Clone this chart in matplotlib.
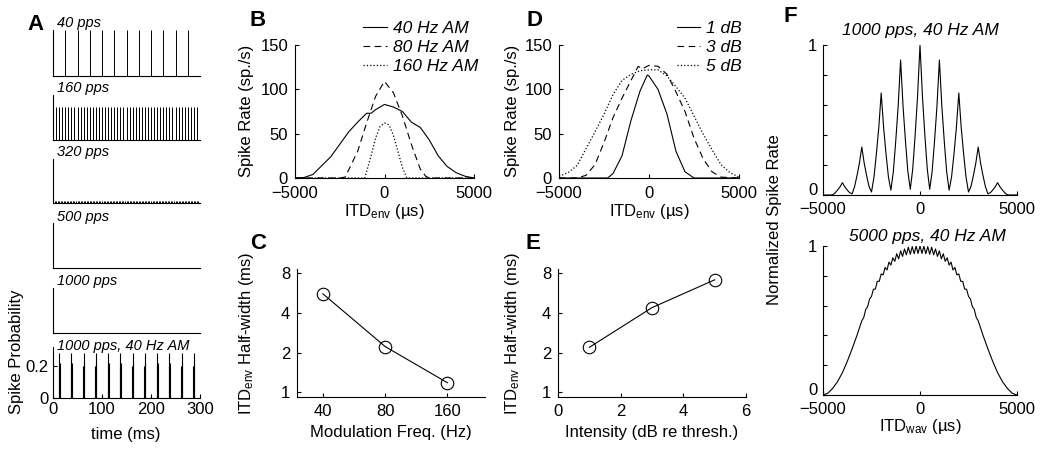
import numpy as np
import matplotlib.pyplot as plt

plt.rcParams['font.family'] = ['Liberation Sans', 'DejaVu Sans']
plt.rcParams['mathtext.fontset'] = 'custom'
plt.rcParams['mathtext.rm'] = 'Liberation Sans'
plt.rcParams['mathtext.it'] = 'Liberation Sans:italic'
plt.rcParams['font.size'] = 12
plt.rcParams['xtick.direction'] = 'in'
plt.rcParams['ytick.direction'] = 'in'
plt.rcParams['xtick.major.size'] = 3
plt.rcParams['ytick.major.size'] = 3
plt.rcParams['axes.linewidth'] = 0.8

# ---- panel A : spike probability vs time ----
a_labels = ['40 pps', '160 pps', '320 pps', '500 pps', '1000 pps', '1000 pps, 40 Hz AM']
pulse_rates = [40, 160, 320, 500, 1000]
onset_height = [1.0, 1.0, 0.45, 0.55, 0.9]
steady_height = [1.0, 0.73, 0.04, 0.0, 0.0]
am_peak_times = [12.5, 37.5, 62.5, 87.5, 112.5, 137.5, 162.5, 187.5, 212.5, 237.5, 262.5, 287.5]
am_cluster_offsets = [-1, 0, 1]
am_cluster_heights = [0.2, 0.28, 0.22]

# ---- panel B : rate vs ITDenv for AM rates ----
b_x40 = [-5000, -4500, -4000, -3500, -3000, -2500, -2000, -1500, -1000, -750, -500, 0,
         500, 1000, 1500, 2000, 2500, 3000, 3500, 4000, 4500, 5000]
b_y40 = [0, 0.5, 4, 14, 24, 38, 52, 63, 73, 73, 77, 83, 80, 75, 63, 57, 43, 25, 13, 6, 2, 0]
b_x80 = [-5000, -2500, -2200, -1500, -1000, -500, 0, 500, 1000, 1500, 2000, 2300, 2500, 5000]
b_y80 = [0, 0, 1, 30, 62, 92, 109, 96, 70, 38, 10, 2, 0, 0]
b_x160 = [-5000, -1100, -750, -500, -250, 0, 250, 500, 750, 1000, 1250, 5000]
b_y160 = [0, 0, 25, 45, 58, 62, 60, 48, 30, 12, 0, 0]
b_labels = ['40 Hz AM', '80 Hz AM', '160 Hz AM']

# ---- panel C : half-width vs modulation freq ----
c_freq = [40, 80, 160]
c_halfwidth = [5.58, 2.22, 1.18]

# ---- panel D : rate vs ITDenv for intensities ----
d_x1 = [-5000, -2300, -2000, -1500, -1000, -500, -100, 0, 500, 1000, 1500, 2000, 2500, 5000]
d_y1 = [0, 0, 5, 25, 65, 98, 116, 115, 100, 72, 30, 7, 0, 0]
d_x3 = [-5000, -4000, -3500, -3000, -2500, -2000, -1500, -1000, -600, -400, 0, 500, 1000,
        1500, 2000, 2500, 3000, 3500, 4000, 5000]
d_y3 = [0, 0, 3, 15, 40, 68, 90, 110, 126, 123, 127, 126, 117, 97, 75, 45, 22, 7, 1, 0]
d_x5 = [-5000, -4500, -4000, -3500, -3000, -2500, -2000, -1500, -1000, -500, 0, 500, 1000,
        1500, 2000, 2500, 3000, 3500, 4000, 4500, 5000]
d_y5 = [2, 6, 14, 33, 52, 72, 94, 110, 117, 121, 122, 122, 115, 103, 90, 70, 50, 32, 15, 6, 1]
d_labels = ['1 dB', '3 dB', '5 dB']

# ---- panel E : half-width vs intensity ----
e_level = [1, 3, 5]
e_halfwidth = [2.19, 4.38, 7.12]

# ---- panel F : normalized rate vs ITDwav ----
# right half (0..5000 us), the curves are symmetric about 0
f1_x = [0, 125, 250, 375, 500, 625, 750, 875, 1000, 1125, 1250, 1375, 1500, 1625, 1750, 1875,
        2000, 2125, 2250, 2375, 2500, 2625, 2750, 2875, 3000, 3125, 3250, 3375, 3500, 3625,
        3750, 3875, 4000, 4125, 4250, 4375, 4500, 4625, 4750, 4875, 5000]
f1_y = [1.0, 0.66, 0.40, 0.173, 0.038, 0.156, 0.36, 0.594, 0.90, 0.594, 0.36, 0.155,
        0.032, 0.118, 0.272, 0.449, 0.68, 0.449, 0.272, 0.117, 0.020, 0.056, 0.128, 0.211,
        0.32, 0.211, 0.128, 0.054, 0.008, 0.015, 0.033, 0.054, 0.082, 0.054, 0.033, 0.014,
        0.002, 0.0, 0.0, 0.0, 0.0]
f2_x = [0, 100, 200, 300, 400, 500, 600, 700, 800, 900, 1000, 1100, 1200, 1300, 1400, 1500,
        1600, 1700, 1800, 1900, 2000, 2100, 2200, 2300, 2400, 2500, 2600, 2700, 2800, 2900,
        3000, 3250, 3500, 3750, 4000, 4250, 4500, 4750, 5000]
f2_y = [1.0, 0.950, 0.999, 0.948, 0.996, 0.945, 0.992, 0.941, 0.980, 0.930, 0.967, 0.914,
        0.948, 0.897, 0.921, 0.872, 0.892, 0.839, 0.856, 0.806, 0.813, 0.763, 0.763, 0.711,
        0.710, 0.662, 0.644, 0.593, 0.573, 0.520, 0.498, 0.40, 0.31, 0.225, 0.15, 0.09,
        0.045, 0.012, 0.0]
f_titles = ['1000 pps, 40 Hz AM', '5000 pps, 40 Hz AM']

W, H = 1050, 450
fig = plt.figure(figsize=(10.5, 4.5), dpi=100)


def box(l, t, r, b):
    return [l / W, 1 - b / H, (r - l) / W, (b - t) / H]


def px(x, y):
    return x / W, 1 - y / H


def ftext(x, y, s, **kw):
    kw.setdefault('ha', 'center')
    kw.setdefault('va', 'center')
    fig.text(*px(x, y), s, **kw)


def clean(ax):
    ax.spines['top'].set_visible(False)
    ax.spines['right'].set_visible(False)


# ---------- A ----------
a_rows = [(30, 76), (95, 140), (159, 203), (223, 268), (288, 333), (347, 398)]
a_label_y = [23, 88, 152, 217, 281, 346]
for i, (t, b) in enumerate(a_rows):
    ax = fig.add_axes(box(53, t, 200, b))
    clean(ax)
    ax.set_xlim(0, 300)
    if i < 5:
        times = np.arange(0, 300, 1000.0 / pulse_rates[i])
        if steady_height[i] > 0:
            ax.vlines(times[1:], 0, steady_height[i], color='k', lw=0.7)
        ax.vlines([0.3], 0, onset_height[i], color='k', lw=1.2)
        ax.set_ylim(0, 1)
        ax.set_xticks([])
        ax.set_yticks([])
    else:
        for off, hgt in zip(am_cluster_offsets, am_cluster_heights):
            ax.vlines(np.array(am_peak_times) + off, 0, hgt, color='k', lw=0.8)
        ax.set_ylim(0, 0.32)
        ax.set_yticks([0, 0.2])
        ax.set_yticklabels(['0', '0.2'])
        ax.set_xticks([0, 100, 200, 300])
        ax.tick_params(axis='x', pad=3)
        ax.tick_params(axis='y', pad=3)
    ftext(57, a_label_y[i], a_labels[i], ha='left', style='italic', fontsize=10.5)
ftext(126, 434, 'time (ms)')
ftext(17, 352, 'Spike Probability', rotation=90)

# ---------- B ----------
leg_kw = dict(bbox_transform=fig.transFigure, frameon=False,
              prop={'style': 'italic', 'size': 12.5}, handlelength=1.35,
              handletextpad=0.35, labelspacing=0.22, borderpad=0, borderaxespad=0)
ax = fig.add_axes(box(295, 45, 474, 178))
clean(ax)
l1, = ax.plot(b_x40, b_y40, 'k-', lw=0.8)
l2, = ax.plot(b_x80, b_y80, 'k--', lw=0.8, dashes=(6, 4))
l3, = ax.plot(b_x160, b_y160, 'k:', lw=0.9)
ax.set_xlim(-5000, 5000)
ax.set_ylim(0, 150)
ax.set_xticks([-5000, 0, 5000])
ax.set_yticks([0, 50, 100, 150])
ax.tick_params(axis='x', pad=6)
ax.tick_params(axis='y', pad=5)
ax.legend([l1, l2, l3], b_labels, loc='upper right', bbox_to_anchor=px(478, 21), **leg_kw)
ftext(384, 212, 'ITD$_{\\mathrm{env}}$ (µs)')
ftext(247, 111, 'Spike Rate (sp./s)', rotation=90)

# ---------- C ----------
ax = fig.add_axes(box(297, 269, 485, 397))
clean(ax)
ax.plot(c_freq, c_halfwidth, 'k-', lw=0.8, marker='o', ms=9, mfc='none', mec='k', mew=0.8)
ax.set_xscale('log', base=2)
ax.set_yscale('log', base=2)
ax.set_xlim(30, 243)
ax.set_ylim(0.92, 8.6)
ax.set_xticks(c_freq)
ax.set_xticklabels([str(v) for v in c_freq])
ax.set_yticks([1, 2, 4, 8])
ax.set_yticklabels(['1', '2', '4', '8'])
ax.minorticks_off()
ax.tick_params(axis='x', pad=5)
ax.tick_params(axis='y', pad=5)
ftext(391, 432, 'Modulation Freq. (Hz)')
ftext(247, 333, 'ITD$_{\\mathrm{env}}$ Half-width (ms)', rotation=90)

# ---------- D ----------
ax = fig.add_axes(box(559, 45, 739, 178))
clean(ax)
m1, = ax.plot(d_x1, d_y1, 'k-', lw=0.8)
m2, = ax.plot(d_x3, d_y3, 'k--', lw=0.8, dashes=(6, 4))
m3, = ax.plot(d_x5, d_y5, 'k:', lw=0.9)
ax.set_xlim(-5000, 5000)
ax.set_ylim(0, 150)
ax.set_xticks([-5000, 0, 5000])
ax.set_yticks([0, 50, 100, 150])
ax.tick_params(axis='x', pad=6)
ax.tick_params(axis='y', pad=5)
ax.legend([m1, m2, m3], d_labels, loc='upper right', bbox_to_anchor=px(742, 21), **leg_kw)
ftext(649, 212, 'ITD$_{\\mathrm{env}}$ (µs)')
ftext(513, 111, 'Spike Rate (sp./s)', rotation=90)

# ---------- E ----------
ax = fig.add_axes(box(558, 269, 746, 397))
clean(ax)
ax.plot(e_level, e_halfwidth, 'k-', lw=0.8, marker='o', ms=9, mfc='none', mec='k', mew=0.8)
ax.set_yscale('log', base=2)
ax.set_xlim(0, 6)
ax.set_ylim(0.92, 8.6)
ax.set_xticks([0, 2, 4, 6])
ax.set_yticks([1, 2, 4, 8])
ax.set_yticklabels(['1', '2', '4', '8'])
ax.minorticks_off()
ax.tick_params(axis='x', pad=5)
ax.tick_params(axis='y', pad=5)
ftext(652, 432, 'Intensity (dB re thresh.)')
ftext(513, 333, 'ITD$_{\\mathrm{env}}$ Half-width (ms)', rotation=90)

# ---------- F ----------
f_boxes = [(45, 195), (246, 395)]
f_title_pos = [(920, 31), (927, 236)]
for k, (fx, fy) in enumerate([(f1_x, f1_y), (f2_x, f2_y)]):
    t, b = f_boxes[k]
    ax = fig.add_axes(box(823, t, 1017, b))
    clean(ax)
    xs = np.array(fx)
    ys = np.array(fy)
    ax.plot(np.concatenate([-xs[::-1], xs[1:]]), np.concatenate([ys[::-1], ys[1:]]), 'k-', lw=0.8)
    ax.set_xlim(-5000, 5000)
    ax.set_ylim(0, 1)
    ax.set_xticks([-5000, 0, 5000])
    ax.set_yticks([0, 0.2, 0.4, 0.6, 0.8, 1.0])
    ax.set_yticklabels(['0', '', '', '', '', '1'])
    ax.tick_params(axis='x', pad=5)
    ax.tick_params(axis='y', pad=4)
    # keep the "0" just above the x axis so it clears the -5000 label
    ax.get_yticklabels()[0].set_verticalalignment('baseline')
    ftext(*f_title_pos[k], f_titles[k], style='italic', fontsize=12.5)
ftext(920, 426, 'ITD$_{\\mathrm{wav}}$ (µs)')
ftext(775, 220, 'Normalized Spike Rate', rotation=90)

# panel letters
for s, x, y in [('A', 35, 24), ('B', 258, 20), ('C', 258, 243), ('D', 535, 20),
                ('E', 533, 243), ('F', 790, 17)]:
    ftext(x, y, s, fontweight='bold', fontsize=16)

fig.savefig('out.png', dpi=100)
